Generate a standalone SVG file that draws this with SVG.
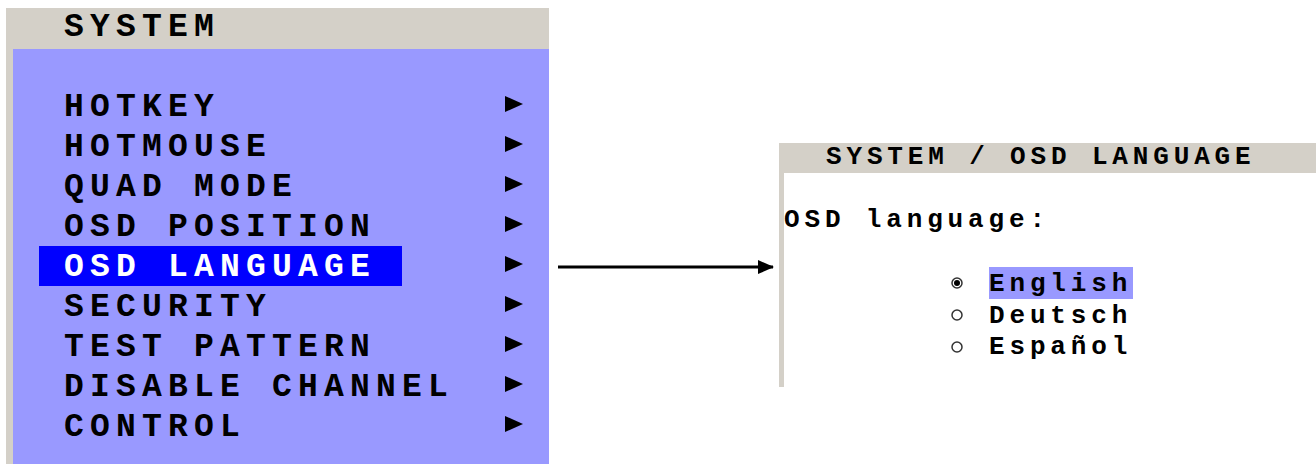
<svg xmlns="http://www.w3.org/2000/svg" width="1316" height="464" viewBox="0 0 1316 464">
<style>
.mi{font-family:"Liberation Mono","Courier New",monospace;font-weight:bold;font-size:33px;letter-spacing:6.2px;fill:#000}
.hl{fill:#fff}
.rt{font-family:"Liberation Mono","Courier New",monospace;font-weight:bold;font-size:26px;letter-spacing:4.85px;fill:#000}
.tri{fill:#000}
.radio{fill:#fff;stroke:#333;stroke-width:1.5}
</style>
<defs>
<marker id="ah" markerWidth="16" markerHeight="14" refX="15" refY="7" orient="auto" markerUnits="userSpaceOnUse">
<path d="M0,0 L16,7 L0,14 Z" fill="#000"/>
</marker>
</defs>
<rect width="1316" height="464" fill="#fff"/>
<g id="system-menu">
<rect x="6" y="8" width="543" height="456" fill="#d4d0c8"/>
<rect x="13" y="49" width="536" height="415" fill="#9999ff"/>
<text class="mi" x="64" y="36">SYSTEM</text>
<rect x="39" y="246" width="363" height="40" fill="#0000ff"/>
<text class="mi" x="64" y="116">HOTKEY</text>
<text class="mi" x="64" y="156">HOTMOUSE</text>
<text class="mi" x="64" y="196">QUAD MODE</text>
<text class="mi" x="64" y="236">OSD POSITION</text>
<text class="mi hl" x="64" y="276">OSD LANGUAGE</text>
<text class="mi" x="64" y="316">SECURITY</text>
<text class="mi" x="64" y="356">TEST PATTERN</text>
<text class="mi" x="64" y="396">DISABLE CHANNEL</text>
<text class="mi" x="64" y="436">CONTROL</text>
<polygon class="tri" points="505,96 523,104 505,112"/>
<polygon class="tri" points="505,136 523,144 505,152"/>
<polygon class="tri" points="505,176 523,184 505,192"/>
<polygon class="tri" points="505,216 523,224 505,232"/>
<polygon class="tri" points="505,256 523,264 505,272"/>
<polygon class="tri" points="505,296 523,304 505,312"/>
<polygon class="tri" points="505,336 523,344 505,352"/>
<polygon class="tri" points="505,376 523,384 505,392"/>
<polygon class="tri" points="505,416 523,424 505,432"/>
</g>
<g id="osd-language">
<rect x="779" y="143" width="537" height="30" fill="#d4d0c8"/>
<rect x="779" y="173" width="5" height="214" fill="#d4d0c8"/>
<text class="rt" x="826" y="164">SYSTEM / OSD LANGUAGE</text>
<text class="rt" x="784" y="227">OSD language:</text>
<rect x="989" y="267" width="144" height="32" fill="#9999ff"/>
<circle class="radio" cx="957" cy="283" r="5"/>
<circle cx="957" cy="283" r="3" fill="#000"/>
<circle class="radio" cx="957" cy="315" r="5"/>
<circle class="radio" cx="957" cy="347" r="5"/>
<text class="rt" x="989" y="291">English</text>
<text class="rt" x="989" y="323">Deutsch</text>
<text class="rt" x="989" y="354">Español</text>
</g>
<g id="connectors">
<line x1="558" y1="267" x2="773" y2="267" stroke="#000" stroke-width="3" marker-end="url(#ah)"/>
</g>
</svg>
